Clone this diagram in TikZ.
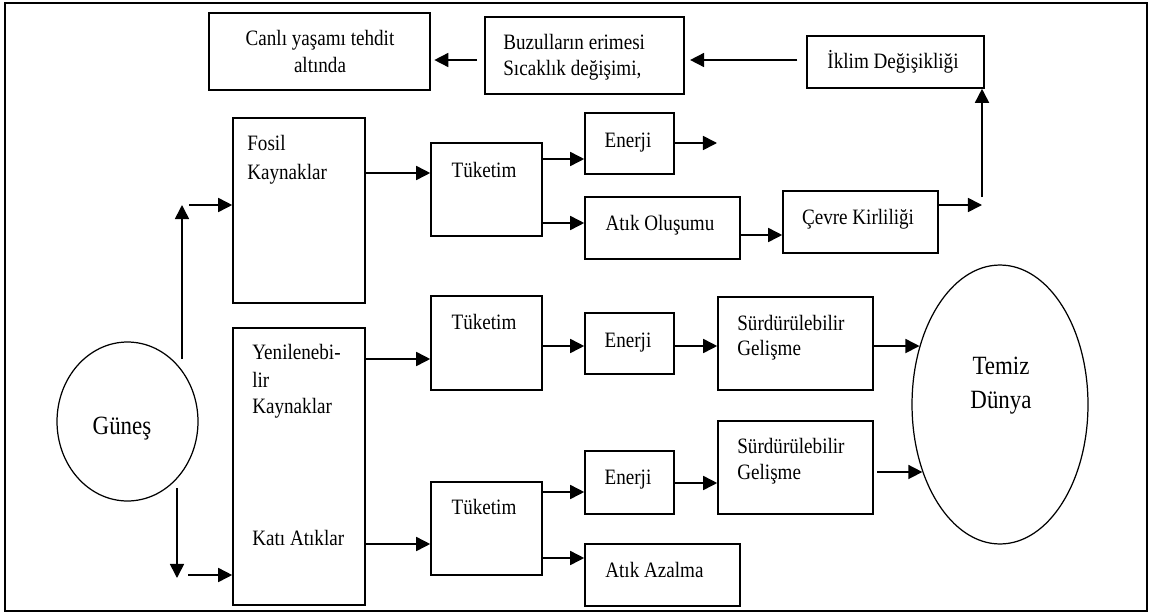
\documentclass[tikz,border=0pt]{standalone}
\usepackage{fontspec}
\setmainfont{Liberation Serif}[FakeStretch=0.87]
\usetikzlibrary{arrows.meta,fit,shapes.geometric}
\begin{document}
\begin{tikzpicture}[x=0.02cm,y=-0.02cm,
  box/.style={draw, line width=0.9pt, inner sep=0pt},
  arr/.style={line width=0.9pt, -{Triangle[length=8pt,width=8pt]}},
  txt/.style={font=\fontsize{12.5}{15}\selectfont, inner sep=0pt, anchor=base},
  txtl/.style={txt, anchor=base west},
  big/.style={font=\fontsize{15}{19.5}\selectfont, inner sep=0pt, anchor=base},
  oval/.style={draw, ellipse, line width=0.7pt, inner sep=0pt}]
\useasboundingbox (0,0) rectangle (1152,615);
\draw[line width=1.6pt] (5,3) rectangle (1147,611);

% boxes
\node[box, fit={(209,13) (430,90)}] (canli) {};
\node[box, fit={(485,17) (684,94)}] (buz) {};
\node[box, fit={(807,36) (984,88)}] (iklim) {};
\node[box, fit={(233,118) (365,303)}] (fosil) {};
\node[box, fit={(431,143) (542,236)}] (tuk1) {};
\node[box, fit={(585,113) (674,174)}] (en1) {};
\node[box, fit={(585,197) (740,259)}] (atik) {};
\node[box, fit={(783,191) (938,253)}] (cevre) {};
\node[box, fit={(233,328) (365,605)}] (yen) {};
\node[box, fit={(431,296) (542,390)}] (tuk2) {};
\node[box, fit={(431,482) (542,575)}] (tuk3) {};
\node[box, fit={(585,313) (674,374)}] (en2) {};
\node[box, fit={(718,297) (873,390)}] (sur1) {};
\node[box, fit={(585,451) (674,514)}] (en3) {};
\node[box, fit={(718,421) (873,514)}] (sur2) {};
\node[box, fit={(585,544) (740,606)}] (azal) {};
\node[oval, minimum width=2.82cm, minimum height=3.18cm] (gunes) at (127.5,421.5) {};
\node[oval, minimum width=3.52cm, minimum height=5.58cm] (temiz) at (1000,404.5) {};

% texts
\node[txt] (tcanli1) at (320,46) {Canlı yaşamı tehdit};
\node[txt] (tcanli2) at (320,72) {altında};
\node[txtl] (tbuz1) at (503,50) {Buzulların erimesi};
\node[txtl] (tbuz2) at (503,76) {Sıcaklık değişimi,};
\node[txt] (tiklim) at (893,69) {İklim Değişikliği};
\node[txtl] (tfosil1) at (247,151) {Fosil};
\node[txtl] (tfosil2) at (247,179) {Kaynaklar};
\node[txt] (ttuk1) at (484,177) {Tüketim};
\node[txt] (ten1) at (628,147) {Enerji};
\node[txt] (tatik) at (660,230) {Atık Oluşumu};
\node[txt] (tcevre) at (858,224) {Çevre Kirliliği};
\node[big] (tgunes) at (122,434) {Güneş};
\node[txtl] (tyen1) at (252,359) {Yenilenebi-};
\node[txtl] (tyen2) at (252,387) {lir};
\node[txtl] (tyen3) at (252,413) {Kaynaklar};
\node[txtl] (tkati) at (252,545) {Katı Atıklar};
\node[txt] (ttuk2) at (484,329) {Tüketim};
\node[txt] (ttuk3) at (484,514) {Tüketim};
\node[txt] (ten2) at (628,347) {Enerji};
\node[txtl] (tsur1a) at (737,330) {Sürdürülebilir};
\node[txtl] (tsur1b) at (737,355) {Gelişme};
\node[big] (ttemiz1) at (1001,374) {Temiz};
\node[big] (ttemiz2) at (1001,408) {Dünya};
\node[txt] (ten3) at (628,484) {Enerji};
\node[txtl] (tsur2a) at (737,453) {Sürdürülebilir};
\node[txtl] (tsur2b) at (737,479) {Gelişme};
\node[txtl] (tazal) at (605,577) {Atık Azalma};

% free ends
\coordinate (e1end) at (717,143);
\coordinate (c1) at (982,205);
\coordinate (c2) at (982,197);
\coordinate (gu1) at (182,359);
\coordinate (gu2) at (182,205);
\coordinate (gh1) at (189,205);
\coordinate (gd1) at (177,488);
\coordinate (gd2) at (177,578);
\coordinate (gh2) at (188,575);

% connectors
\draw[arr, shorten <=4pt, shorten >=2pt] (buz.west |- 0,60) -- (canli.east |- 0,60);
\draw[arr, shorten <=5pt, shorten >=3pt] (iklim.west |- 0,60) -- (buz.east |- 0,60);
\draw[arr] (fosil.east |- 0,173) -- (tuk1.west |- 0,173);
\draw[arr] (tuk1.east |- 0,159) -- (en1.west |- 0,159);
\draw[arr] (tuk1.east |- 0,223) -- (atik.west |- 0,223);
\draw[arr] (en1.east |- 0,143) -- (e1end);
\draw[arr] (atik.east |- 0,235) -- (cevre.west |- 0,235);
\draw[arr] (cevre.east |- 0,205) -- (c1);
\draw[arr] (c2) -- (c2 |- iklim.south);
\draw[arr] (gu1) -- (gu2);
\draw[arr] (gh1) -- (fosil.west |- gh1);
\draw[arr] (gd1) -- (gd2);
\draw[arr] (gh2) -- (yen.west |- gh2);
\draw[arr] (yen.east |- 0,359) -- (tuk2.west |- 0,359);
\draw[arr] (yen.east |- 0,544) -- (tuk3.west |- 0,544);
\draw[arr] (tuk2.east |- 0,346) -- (en2.west |- 0,346);
\draw[arr] (en2.east |- 0,346) -- (sur1.west |- 0,346);
\draw[arr] (sur1.east |- temiz.144) -- (temiz.144);
\draw[arr] (tuk3.east |- 0,492) -- (en3.west |- 0,492);
\draw[arr] (en3.east |- 0,483) -- (sur2.west |- 0,483);
\draw[arr, shorten <=2pt] (sur2.east |- temiz.221) -- (temiz.221);
\draw[arr] (tuk3.east |- 0,558) -- (azal.west |- 0,558);
\end{tikzpicture}
\end{document}
